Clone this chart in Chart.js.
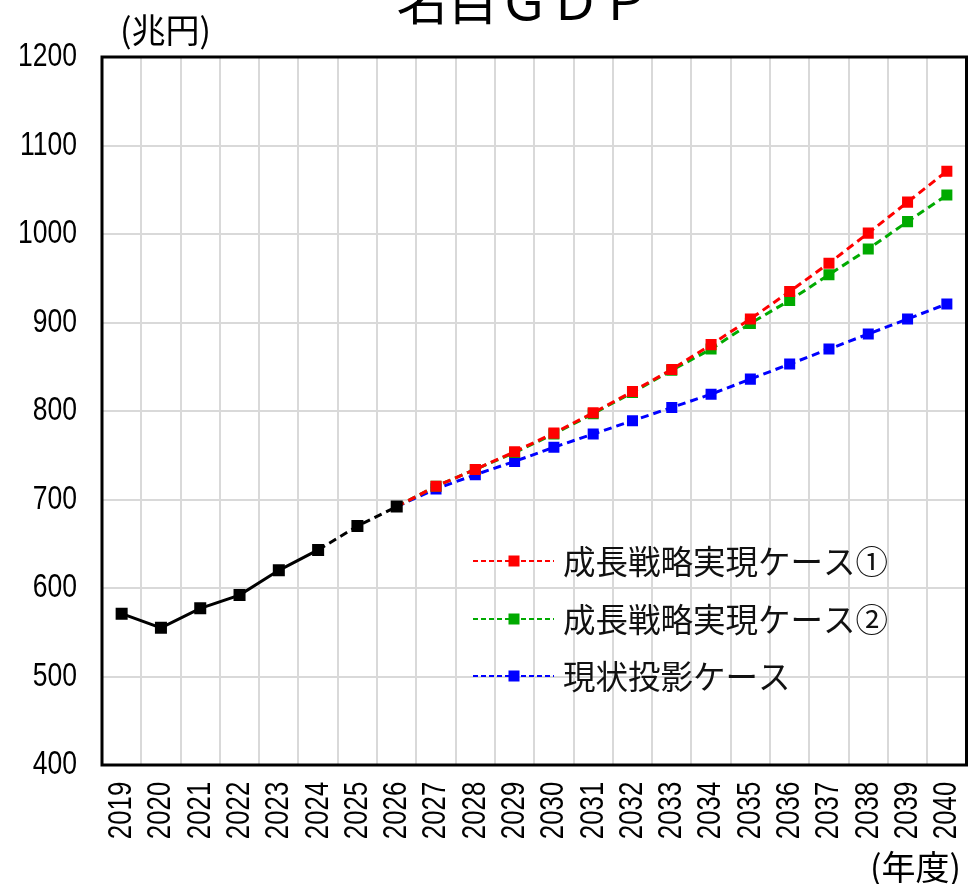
<!DOCTYPE html>
<html lang="ja">
<head>
<meta charset="utf-8">
<title>名目GDP</title>
<script src="https://cdn.jsdelivr.net/npm/chart.js@4.4.1/dist/chart.umd.min.js"></script>
<style>
  html, body { margin: 0; padding: 0; background: #fff; }
  #wrap { width: 975px; height: 884px; position: relative; }
</style>
</head>
<body>
<div id="wrap"><canvas id="gdp" width="975" height="884"></canvas></div>
<script>
// 年度
const years = ['2019','2020','2021','2022','2023','2024','2025','2026','2027','2028','2029',
  '2030','2031','2032','2033','2034','2035','2036','2037','2038','2039','2040'];

// 実績・見込み（兆円）
const actual = [571, 555, 577, 592, 620, 643, 670, 692,
  null, null, null, null, null, null, null, null, null, null, null, null, null, null];

// 成長戦略実現ケース①
const growthCase1 = [null, null, null, null, null, null, null, 692,
  715, 734, 754, 775, 798, 822, 847, 875, 904, 935, 967, 1001, 1036, 1071];

// 成長戦略実現ケース②
const growthCase2 = [null, null, null, null, null, null, null, 692,
  715, 734, 753, 774, 797, 821, 846, 870, 899, 925, 954, 983, 1014, 1044];

// 現状投影ケース
const baselineCase = [null, null, null, null, null, null, null, 692,
  712, 728, 743, 759, 774, 789, 804, 819, 836, 853, 870, 887, 904, 921];

const yTicks = { min: 400, max: 1200, step: 100 };

const legendItems = [
  { label: '成長戦略実現ケース①', color: '#ff0000' },
  { label: '成長戦略実現ケース②', color: '#00aa00' },
  { label: '現状投影ケース', color: '#0000ff' }
];

const CJK = '"Noto Sans CJK JP", "Noto Sans", sans-serif';
const NUM = '"Liberation Sans", Arial, sans-serif';
const DASH = [8, 5];

// 予測系列の起点（2026年度）には印を付けない
const firstForecast = years.indexOf('2026');
const forecastRadius = ctx => (ctx.dataIndex === firstForecast ? 0 : 7.8);

function forecastDataset(label, data, color, order) {
  return {
    label, data, order,
    borderColor: color,
    backgroundColor: color,
    borderWidth: 3,
    borderDash: DASH,
    pointStyle: 'rect',
    pointRadius: forecastRadius,
    pointBorderWidth: 0,
    pointBackgroundColor: color,
    tension: 0,
    spanGaps: false
  };
}

// 目盛ラベルを細身（ナロー体風）に描く：軸側を基点に文字列方向へ縮める
function condenseLabels(scale, along) {
  if (scale.$condensed) return;
  scale.$condensed = true;
  scale._computeLabelArea = () => undefined;
  const drawLabels = scale.drawLabels;
  scale.drawLabels = function (area) {
    const ctx = this.ctx;
    ctx.save();
    if (this.isHorizontal()) {
      ctx.translate(0, this.top);
      ctx.scale(1, along);
      ctx.translate(0, -this.top);
    } else {
      ctx.translate(this.right, 0);
      ctx.scale(along, 1);
      ctx.translate(-this.right, 0);
    }
    drawLabels.call(this, area);
    ctx.restore();
  };
}

// 枠線・タイトル・単位・凡例
const decorations = {
  id: 'decorations',
  beforeDatasetsDraw(chart) {
    const { ctx, chartArea: a } = chart;
    ctx.save();
    ctx.strokeStyle = '#000';
    ctx.lineWidth = 3;
    ctx.strokeRect(a.left, a.top, a.right - a.left, a.bottom - a.top);
    ctx.restore();
  },
  afterDraw(chart) {
    const { ctx } = chart;
    ctx.save();
    ctx.fillStyle = '#000';
    ctx.textBaseline = 'alphabetic';
    ctx.textAlign = 'center';
    ctx.font = '51px ' + CJK;
    ctx.fillText('名目ＧＤＰ', 524, 20);

    // 単位
    ctx.font = '34px ' + CJK;
    ctx.textAlign = 'left';
    ctx.textBaseline = 'middle';
    ctx.fillText('(兆円)', 120, 30);
    ctx.textAlign = 'right';
    ctx.fillText('(年度)', 961, 867);

    // 凡例
    const rows = [561, 619, 676];
    legendItems.forEach((item, i) => {
      const y = rows[i];
      ctx.strokeStyle = item.color;
      ctx.lineWidth = 2;
      ctx.setLineDash([5, 3]);
      ctx.beginPath();
      ctx.moveTo(473, y);
      ctx.lineTo(554, y);
      ctx.stroke();
      ctx.setLineDash([]);
      ctx.fillStyle = item.color;
      ctx.fillRect(514 - 5.5, y - 5.5, 11, 11);
      ctx.fillStyle = '#111';
      ctx.font = '32.5px ' + CJK;
      ctx.textAlign = 'left';
      ctx.textBaseline = 'middle';
      ctx.fillText(item.label, 563, y + 1);
    });
    ctx.restore();
  }
};

new Chart(document.getElementById('gdp'), {
  type: 'line',
  data: {
    labels: years,
    datasets: [
      {
        label: '実績',
        data: actual,
        order: 0,
        borderColor: '#000',
        backgroundColor: '#000',
        borderWidth: 3,
        pointStyle: 'rect',
        pointRadius: 8.5,
        pointBorderWidth: 0,
        pointBackgroundColor: '#000',
        tension: 0,
        segment: {
          borderDash: ctx => (ctx.p0DataIndex >= years.indexOf('2024') ? DASH : undefined)
        }
      },
      forecastDataset('成長戦略実現ケース①', growthCase1, '#ff0000', 1),
      forecastDataset('成長戦略実現ケース②', growthCase2, '#00aa00', 2),
      forecastDataset('現状投影ケース', baselineCase, '#0000ff', 3)
    ]
  },
  options: {
    responsive: false,
    animation: false,
    devicePixelRatio: 1,
    layout: { padding: { left: 0, top: 57, right: 8, bottom: 0 } },
    plugins: {
      legend: { display: false },
      title: { display: false },
      tooltip: { enabled: false }
    },
    scales: {
      x: {
        offset: true,
        grid: { offset: true, color: '#d9d9d9', lineWidth: 2, drawTicks: false },
        border: { display: false },
        ticks: {
          autoSkip: false,
          maxRotation: 90,
          minRotation: 90,
          padding: 22,
          color: '#000',
          font: { family: NUM, size: 34 }
        },
        afterFit(scale) {
          scale.height = 884 - 765;
          scale.paddingLeft = 0;
          scale.paddingRight = 0;
          condenseLabels(scale, 0.76);
        }
      },
      y: {
        min: yTicks.min,
        max: yTicks.max,
        grid: { color: '#d9d9d9', lineWidth: 2, drawTicks: false },
        border: { display: false },
        ticks: {
          stepSize: yTicks.step,
          padding: 32,
          color: '#000',
          font: { family: NUM, size: 34 },
          callback: v => String(v)
        },
        afterFit(scale) {
          scale.width = 102;
          scale.paddingTop = 0;
          scale.paddingBottom = 0;
          condenseLabels(scale, 0.78);
        }
      }
    }
  },
  plugins: [decorations]
});
</script>
</body>
</html>
